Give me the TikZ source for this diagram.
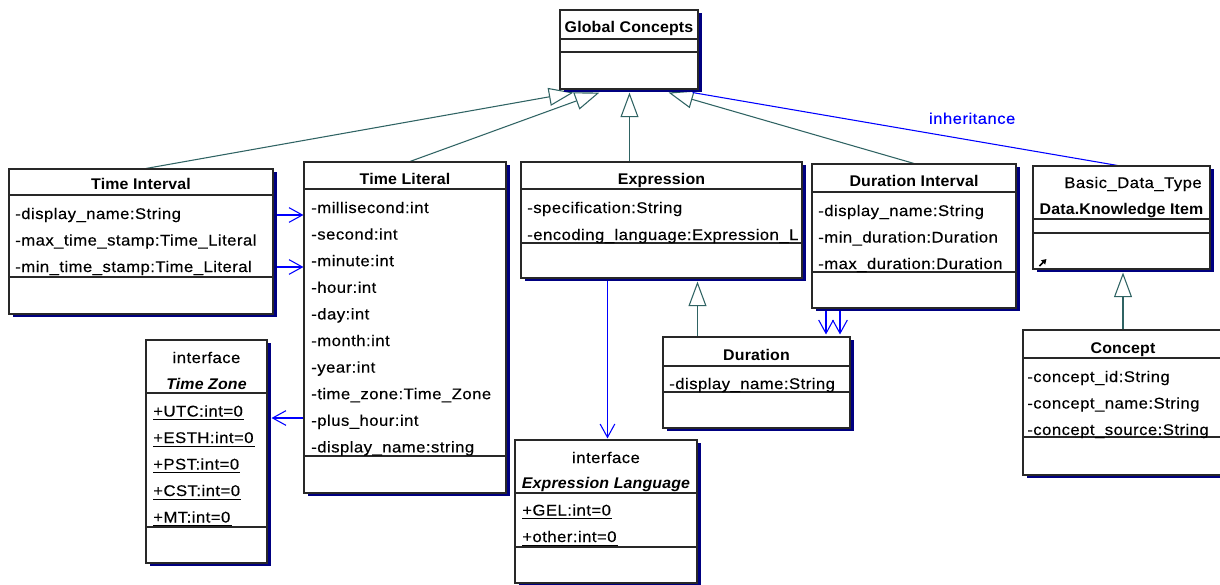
\documentclass[tikz,border=0pt]{standalone}
\usepackage{fontspec}
\setmainfont{Liberation Sans}
\newfontfamily\attrfont{Liberation Sans}[FakeStretch=1.08,LetterSpace=3,FakeBold=0.3]
\newfontfamily\headfont{Liberation Sans}[FakeStretch=1.03,LetterSpace=1]
\usetikzlibrary{arrows.meta,calc,fit,shadows,backgrounds}

\definecolor{genline}{RGB}{47,99,99}
\definecolor{assocblue}{RGB}{0,0,255}
\definecolor{shadownavy}{RGB}{0,0,128}
\definecolor{boxline}{RGB}{40,40,40}

\begin{document}
\begin{tikzpicture}[x=0.75pt,y=-0.75pt,
  umlbox/.style={draw=boxline, line width=0.8pt, fill=white, inner sep=0pt,
    drop shadow={shadow xshift=3pt, shadow yshift=-2.4pt, fill=shadownavy, opacity=1}},
  sep/.style={draw=boxline, line width=0.8pt},
  attr/.style={font={\attrfont\fontsize{11.6pt}{14pt}\selectfont}, inner sep=0pt, anchor=base west},
  stereo/.style={font={\attrfont\fontsize{11.6pt}{14pt}\selectfont}, inner sep=0pt, anchor=base},
  head/.style={font={\headfont\bfseries\fontsize{11.6pt}{14pt}\selectfont}, inner sep=0pt, anchor=base},
  ihead/.style={font={\headfont\bfseries\itshape\fontsize{11.6pt}{14pt}\selectfont}, inner sep=0pt, anchor=base},
  ul/.style={draw=black, line width=0.75pt},
  gen/.style={draw=genline, line width=0.8pt,
    -{Triangle[length=18.5pt, width=13.5pt, fill=white, line width=0.8pt]}},
  nav/.style={draw=assocblue, line width=0.8pt,
    -{Straight Barb[length=10pt, width=11pt, line width=0.8pt]}},
  inh/.style={draw=assocblue, line width=0.8pt},
  lbl/.style={font={\attrfont\fontsize{11.6pt}{14pt}\selectfont}, text=assocblue, inner sep=0pt}
]
\useasboundingbox (0,0) rectangle (1220,585);
\clip (0,0) rectangle (1220,585);

% ---------- Global Concepts ----------
\node[umlbox, fit={(560,10) (698,89)}] (gc) {};
\draw[sep] (gc.west |- 0,39) -- (gc.east |- 0,39);
\draw[sep] (gc.west |- 0,52) -- (gc.east |- 0,52);
\node[head] (gc-t) at (629,33) {Global Concepts};

% ---------- Time Interval ----------
\node[umlbox, fit={(9,169) (273,314)}] (tint) {};
\draw[sep] (tint.west |- 0,195) -- (tint.east |- 0,195);
\draw[sep] (tint.west |- 0,277) -- (tint.east |- 0,277);
\node[head] (tint-t) at (141,189) {Time Interval};
\node[attr] (tint-1) at (15,219) {-display\_name:String};
\node[attr] (tint-2) at (15,245.5) {-max\_time\_stamp:Time\_Literal};
\node[attr] (tint-3) at (15,272) {-min\_time\_stamp:Time\_Literal};

% ---------- Time Literal ----------
\node[umlbox, fit={(304,162) (506,493)}] (tlit) {};
\draw[sep] (tlit.west |- 0,189) -- (tlit.east |- 0,189);
\draw[sep] (tlit.west |- 0,456) -- (tlit.east |- 0,456);
\node[head] (tlit-t) at (405,184) {Time Literal};
\foreach \txt [count=\i] in {-millisecond:int, -second:int, -minute:int, -hour:int,
    -day:int, -month:int, -year:int, -time\_zone:Time\_Zone, -plus\_hour:int,
    -display\_name:string}
  \node[attr] (tlit-\i) at (311,{213+26.6*(\i-1)}) {\txt};

% ---------- Expression ----------
\node[umlbox, fit={(521,162) (802,278)}] (expr) {};
\draw[sep] (expr.west |- 0,189) -- (expr.east |- 0,189);
\draw[sep] (expr.west |- 0,243) -- (expr.east |- 0,243);
\node[head] (expr-t) at (661.5,184) {Expression};
\node[attr] (expr-1) at (527,213) {-specification:String};
\node[attr] (expr-2) at (527,240) {-encoding\_language:Expression\_L};

% ---------- Duration Interval ----------
\node[umlbox, fit={(812,164) (1016,308)}] (durint) {};
\draw[sep] (durint.west |- 0,192) -- (durint.east |- 0,192);
\draw[sep] (durint.west |- 0,272) -- (durint.east |- 0,272);
\node[head] (durint-t) at (914,186) {Duration Interval};
\node[attr] (durint-1) at (818,216) {-display\_name:String};
\node[attr] (durint-2) at (818,242.5) {-min\_duration:Duration};
\node[attr] (durint-3) at (818,269) {-max\_duration:Duration};

% ---------- Data.Knowledge Item ----------
\node[umlbox, fit={(1033,166) (1210,269)}] (dki) {};
\draw[sep] (dki.west |- 0,219) -- (dki.east |- 0,219);
\draw[sep] (dki.west |- 0,233) -- (dki.east |- 0,233);
\node[stereo, anchor=base east] (dki-s) at (1202,188) {Basic\_Data\_Type};
\node[head] (dki-t) at (1121.5,214) {Data.Knowledge Item};
\draw[draw=black, line width=1.3pt, -{Triangle[length=3.6pt, width=4.2pt]}]
  ($(dki.south west)+(7,-3.5)$) -- ($(dki.south west)+(14,-10.5)$);

% ---------- Concept ----------
\node[umlbox, fit={(1023,330) (1223,475)}] (concept) {};
\draw[sep] (concept.west |- 0,358) -- (concept.east |- 0,358);
\draw[sep] (concept.west |- 0,437) -- (concept.east |- 0,437);
\node[head] (concept-t) at (1123,353) {Concept};
\node[attr] (concept-1) at (1027,382) {-concept\_id:String};
\node[attr] (concept-2) at (1027,408.5) {-concept\_name:String};
\node[attr] (concept-3) at (1027,435) {-concept\_source:String};

% ---------- Duration ----------
\node[umlbox, fit={(663,337) (850,428)}] (dur) {};
\draw[sep] (dur.west |- 0,366) -- (dur.east |- 0,366);
\draw[sep] (dur.west |- 0,392) -- (dur.east |- 0,392);
\node[head] (dur-t) at (756.5,360) {Duration};
\node[attr] (dur-1) at (669,389) {-display\_name:String};

% ---------- Time Zone (interface) ----------
\node[umlbox, fit={(146,340) (267,563)}] (tz) {};
\draw[sep] (tz.west |- 0,393) -- (tz.east |- 0,393);
\draw[sep] (tz.west |- 0,527) -- (tz.east |- 0,527);
\node[stereo] (tz-s) at (206.5,363) {interface};
\node[ihead] (tz-t) at (206.5,389) {Time Zone};
\foreach \txt [count=\i] in {+UTC:int=0, +ESTH:int=0, +PST:int=0, +CST:int=0, +MT:int=0} {
  \node[attr] (tz-\i) at (153,{416.5+26.5*(\i-1)}) {\txt};
  \draw[ul] ($(tz-\i.base west)+(0,3)$) -- ($(tz-\i.base east)+(1,3)$);
}

% ---------- Expression Language (interface) ----------
\node[umlbox, fit={(515,440) (697,583)}] (exlang) {};
\draw[sep] (exlang.west |- 0,493) -- (exlang.east |- 0,493);
\draw[sep] (exlang.west |- 0,547) -- (exlang.east |- 0,547);
\node[stereo] (exlang-s) at (606,463) {interface};
\node[ihead] (exlang-t) at (606,488) {Expression Language};
\foreach \txt [count=\i] in {+GEL:int=0, +other:int=0} {
  \node[attr] (exlang-\i) at (522,{515.5+26.5*(\i-1)}) {\txt};
  \draw[ul] ($(exlang-\i.base west)+(0,3)$) -- ($(exlang-\i.base east)+(1,3)$);
}

% ---------- Connectors ----------
\begin{scope}[on background layer]
  % generalizations
  \draw[gen] ($(tint.north)+(5,0)$) -- ($(gc.south west)+(14,3)$);
  \draw[gen] ($(tlit.north)+(5,0)$) -- ($(gc.south west)+(40,3)$);
  \draw[gen] ($(expr.north west)+(109,0)$) -- ($(gc.south west)+(70,3)$);
  \draw[gen] (durint.north) -- ($(gc.south east)+(-30,3)$);
  \draw[gen] (concept.north) -- ($(concept.north |- dki.south)+(0,3)$);
  \draw[gen] ($(dur.north west)+(35,0)$) -- ($(dur.north west |- expr.south)+(35,3)$);
  % inheritance link
  \draw[inh] ($(dki.north)+(-4,0)$) -- ($(gc.south east)+(-6,3)$)
    node[lbl, pos=0.342, anchor=south, yshift=12pt] (inh-l) {inheritance};
  % navigable associations
  \draw[nav] (tint.east |- 0,215) -- (tlit.west |- 0,215);
  \draw[nav] (tint.east |- 0,267) -- (tlit.west |- 0,267);
  \draw[nav] (tlit.west |- 0,418) -- ($(tz.east |- 0,418)+(4,0)$);
  \draw[nav] ($(expr.south west)+(87,0)$) -- ($(exlang.north west)+(93,-1)$);
  \draw[nav] (durint.south -| 826,0) -- ($(dur.north -| 826,0)+(0,-2)$);
  \draw[nav] (durint.south -| 840,0) -- ($(dur.north -| 840,0)+(0,-2)$);
\end{scope}
\end{tikzpicture}
\end{document}
